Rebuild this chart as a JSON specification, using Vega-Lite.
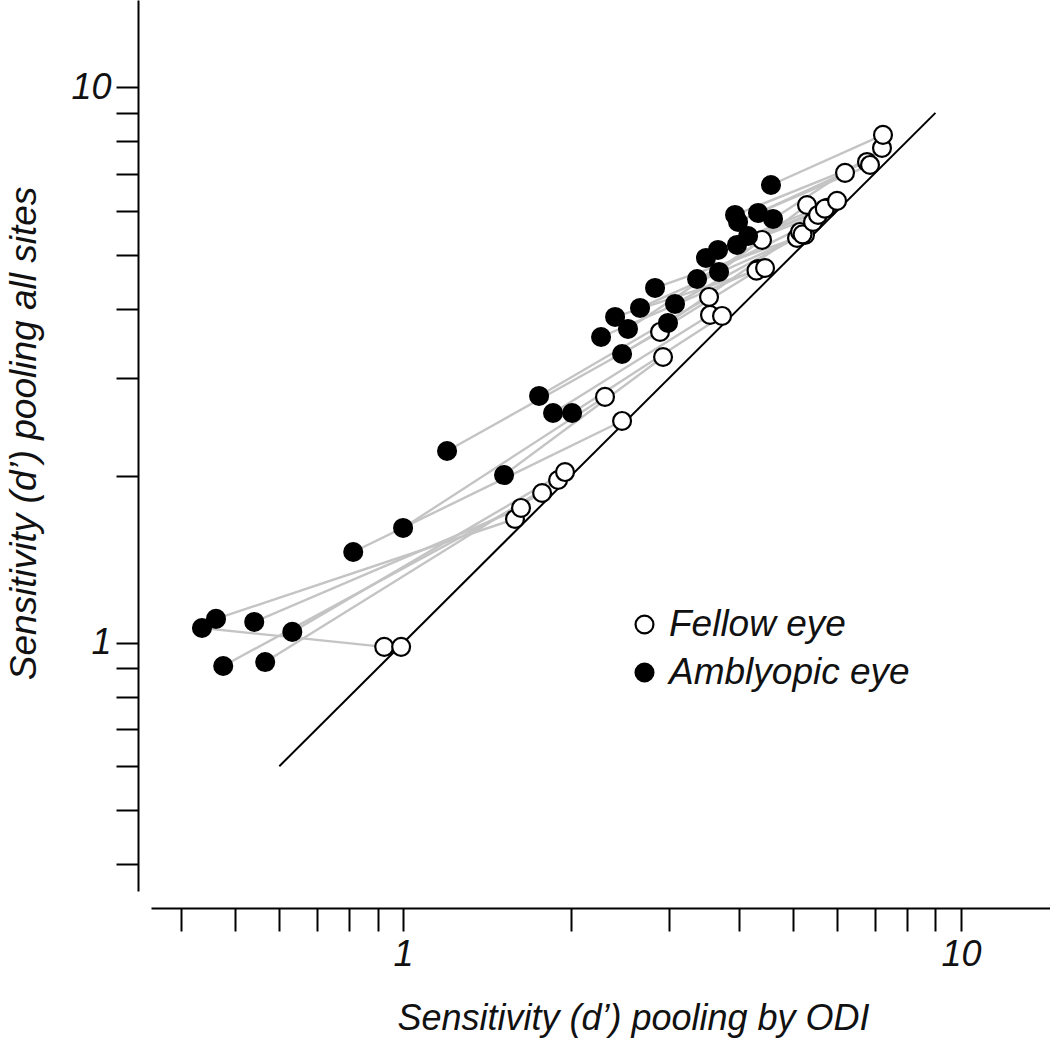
{
  "$schema": "https://vega.github.io/schema/vega-lite/v6.json",
  "width": 899,
  "height": 891,
  "autosize": "none",
  "padding": {"left": 151, "top": 0, "right": 0, "bottom": 147},
  "background": "white",
  "config": {
    "view": {"stroke": null},
    "font": "Liberation Sans",
    "axis": {
      "grid": false,
      "domainColor": "black",
      "domainWidth": 2,
      "tickColor": "black",
      "tickWidth": 2,
      "labelFont": "Liberation Sans",
      "labelFontStyle": "italic",
      "labelFontSize": 36,
      "labelColor": "#111111",
      "titleFont": "Liberation Sans",
      "titleFontStyle": "italic",
      "titleFontWeight": "normal",
      "titleColor": "#111111"
    }
  },
  "datasets": {
    "pts": [
      {"s": 1, "eye": "Fellow eye", "x": 0.925, "y": 0.984},
      {"s": 33, "eye": "Fellow eye", "x": 0.992, "y": 0.984},
      {"s": 2, "eye": "Fellow eye", "x": 1.587, "y": 1.672},
      {"s": 3, "eye": "Fellow eye", "x": 1.775, "y": 1.862},
      {"s": 4, "eye": "Fellow eye", "x": 1.627, "y": 1.750},
      {"s": 5, "eye": "Fellow eye", "x": 1.896, "y": 1.965},
      {"s": 6, "eye": "Fellow eye", "x": 1.951, "y": 2.031},
      {"s": 7, "eye": "Fellow eye", "x": 2.469, "y": 2.510},
      {"s": 8, "eye": "Fellow eye", "x": 2.301, "y": 2.773},
      {"s": 9, "eye": "Fellow eye", "x": 2.888, "y": 3.630},
      {"s": 10, "eye": "Fellow eye", "x": 2.924, "y": 3.272},
      {"s": 11, "eye": "Fellow eye", "x": 3.535, "y": 4.197},
      {"s": 12, "eye": "Fellow eye", "x": 3.549, "y": 3.895},
      {"s": 13, "eye": "Fellow eye", "x": 3.730, "y": 3.879},
      {"s": 14, "eye": "Fellow eye", "x": 4.327, "y": 4.713},
      {"s": 15, "eye": "Fellow eye", "x": 4.300, "y": 4.680},
      {"s": 16, "eye": "Fellow eye", "x": 4.455, "y": 4.732},
      {"s": 17, "eye": "Fellow eye", "x": 4.399, "y": 5.315},
      {"s": 18, "eye": "Fellow eye", "x": 5.083, "y": 5.359},
      {"s": 19, "eye": "Fellow eye", "x": 5.146, "y": 5.494},
      {"s": 20, "eye": "Fellow eye", "x": 5.253, "y": 5.426},
      {"s": 21, "eye": "Fellow eye", "x": 5.200, "y": 5.440},
      {"s": 22, "eye": "Fellow eye", "x": 5.430, "y": 5.727},
      {"s": 23, "eye": "Fellow eye", "x": 5.297, "y": 6.144},
      {"s": 24, "eye": "Fellow eye", "x": 5.543, "y": 5.896},
      {"s": 25, "eye": "Fellow eye", "x": 5.753, "y": 6.070},
      {"s": 26, "eye": "Fellow eye", "x": 5.700, "y": 6.050},
      {"s": 27, "eye": "Fellow eye", "x": 5.996, "y": 6.249},
      {"s": 28, "eye": "Fellow eye", "x": 6.197, "y": 7.019},
      {"s": 29, "eye": "Fellow eye", "x": 6.785, "y": 7.343},
      {"s": 30, "eye": "Fellow eye", "x": 6.870, "y": 7.253},
      {"s": 31, "eye": "Fellow eye", "x": 7.218, "y": 7.783},
      {"s": 32, "eye": "Fellow eye", "x": 7.248, "y": 8.215},
      {"s": 1, "eye": "Amblyopic eye", "x": 0.436, "y": 1.064},
      {"s": 2, "eye": "Amblyopic eye", "x": 0.462, "y": 1.105},
      {"s": 3, "eye": "Amblyopic eye", "x": 0.476, "y": 0.909},
      {"s": 4, "eye": "Amblyopic eye", "x": 0.541, "y": 1.091},
      {"s": 5, "eye": "Amblyopic eye", "x": 0.566, "y": 0.924},
      {"s": 6, "eye": "Amblyopic eye", "x": 0.633, "y": 1.047},
      {"s": 7, "eye": "Amblyopic eye", "x": 0.814, "y": 1.458},
      {"s": 8, "eye": "Amblyopic eye", "x": 1.000, "y": 1.611},
      {"s": 9, "eye": "Amblyopic eye", "x": 1.199, "y": 2.216},
      {"s": 10, "eye": "Amblyopic eye", "x": 1.517, "y": 2.006},
      {"s": 11, "eye": "Amblyopic eye", "x": 1.753, "y": 2.784},
      {"s": 12, "eye": "Amblyopic eye", "x": 1.857, "y": 2.594},
      {"s": 13, "eye": "Amblyopic eye", "x": 2.009, "y": 2.594},
      {"s": 14, "eye": "Amblyopic eye", "x": 2.264, "y": 3.555},
      {"s": 15, "eye": "Amblyopic eye", "x": 2.469, "y": 3.313},
      {"s": 16, "eye": "Amblyopic eye", "x": 2.399, "y": 3.863},
      {"s": 17, "eye": "Amblyopic eye", "x": 2.530, "y": 3.675},
      {"s": 18, "eye": "Amblyopic eye", "x": 2.659, "y": 4.010},
      {"s": 19, "eye": "Amblyopic eye", "x": 2.984, "y": 3.768},
      {"s": 20, "eye": "Amblyopic eye", "x": 2.829, "y": 4.356},
      {"s": 21, "eye": "Amblyopic eye", "x": 3.072, "y": 4.077},
      {"s": 22, "eye": "Amblyopic eye", "x": 3.365, "y": 4.521},
      {"s": 23, "eye": "Amblyopic eye", "x": 3.684, "y": 4.655},
      {"s": 24, "eye": "Amblyopic eye", "x": 3.491, "y": 4.933},
      {"s": 25, "eye": "Amblyopic eye", "x": 3.668, "y": 5.099},
      {"s": 26, "eye": "Amblyopic eye", "x": 3.968, "y": 5.206},
      {"s": 27, "eye": "Amblyopic eye", "x": 4.153, "y": 5.403},
      {"s": 28, "eye": "Amblyopic eye", "x": 3.985, "y": 5.727},
      {"s": 29, "eye": "Amblyopic eye", "x": 3.936, "y": 5.896},
      {"s": 30, "eye": "Amblyopic eye", "x": 4.327, "y": 5.945},
      {"s": 31, "eye": "Amblyopic eye", "x": 4.603, "y": 5.799},
      {"s": 32, "eye": "Amblyopic eye", "x": 4.565, "y": 6.675}
    ],
    "diag": [
      {"x": 0.6, "y": 0.6},
      {"x": 9, "y": 9}
    ]
  },
  "layer": [
    {
      "data": {"name": "diag"},
      "mark": {"type": "line", "color": "black", "strokeWidth": 2, "clip": false},
      "encoding": {
        "x": {"field": "x", "type": "quantitative"},
        "y": {"field": "y", "type": "quantitative"}
      }
    },
    {
      "data": {"name": "pts"},
      "mark": {"type": "line", "color": "#c4c4c4", "strokeWidth": 2.4},
      "encoding": {
        "x": {"field": "x", "type": "quantitative"},
        "y": {"field": "y", "type": "quantitative"},
        "detail": {"field": "s", "type": "nominal"}
      }
    },
    {
      "data": {"name": "pts"},
      "mark": {"type": "circle", "size": 320, "stroke": "black", "strokeWidth": 2.2, "opacity": 1},
      "encoding": {
        "x": {
          "field": "x", "type": "quantitative",
          "scale": {"type": "log", "domain": [0.3533, 14.44], "nice": false, "zero": false},
          "axis": {
            "title": "Sensitivity (d\u2019) pooling by ODI",
            "titleFontSize": 36,
            "values": [0.4, 0.5, 0.6, 0.7, 0.8, 0.9, 1, 2, 3, 4, 5, 6, 7, 8, 9, 10],
            "labelExpr": "datum.value == 1 ? '1' : (datum.value == 10 ? '10' : '')",
            "offset": 17,
            "tickSize": 23,
            "labelPadding": 6,
            "labelFlush": false,
            "labelOverlap": false,
            "titleBaseline": "alphabetic",
            "titleY": 121,
            "titleX": 482
          }
        },
        "y": {
          "field": "y", "type": "quantitative",
          "scale": {"type": "log", "domain": [0.3577, 14.37], "nice": false, "zero": false},
          "axis": {
            "title": "Sensitivity (d\u2019) pooling all sites",
            "titleFontSize": 37,
            "values": [0.4, 0.5, 0.6, 0.7, 0.8, 0.9, 1, 2, 3, 4, 5, 6, 7, 8, 9, 10],
            "labelExpr": "datum.value == 1 ? '1' : (datum.value == 10 ? '10' : '')",
            "offset": 13,
            "tickSize": 22,
            "labelPadding": 5,
            "labelFlush": false,
            "labelOverlap": false,
            "titleBaseline": "alphabetic",
            "titleAngle": -90,
            "titleX": -103,
            "titleY": 433
          }
        },
        "fill": {
          "field": "eye", "type": "nominal",
          "scale": {"domain": ["Fellow eye", "Amblyopic eye"], "range": ["white", "black"]},
          "legend": {
            "title": null,
            "orient": "none",
            "legendX": 475,
            "legendY": 606,
            "padding": 0,
            "symbolType": "circle",
            "symbolSize": 320,
            "symbolStrokeColor": "black",
            "symbolStrokeWidth": 2.2,
            "symbolOpacity": 1,
            "labelFont": "Liberation Sans",
            "labelFontStyle": "italic",
            "labelFontSize": 37,
            "labelColor": "#111111",
            "labelOffset": 6,
            "rowPadding": 10,
            "labelLimit": 400
          }
        }
      }
    }
  ]
}
